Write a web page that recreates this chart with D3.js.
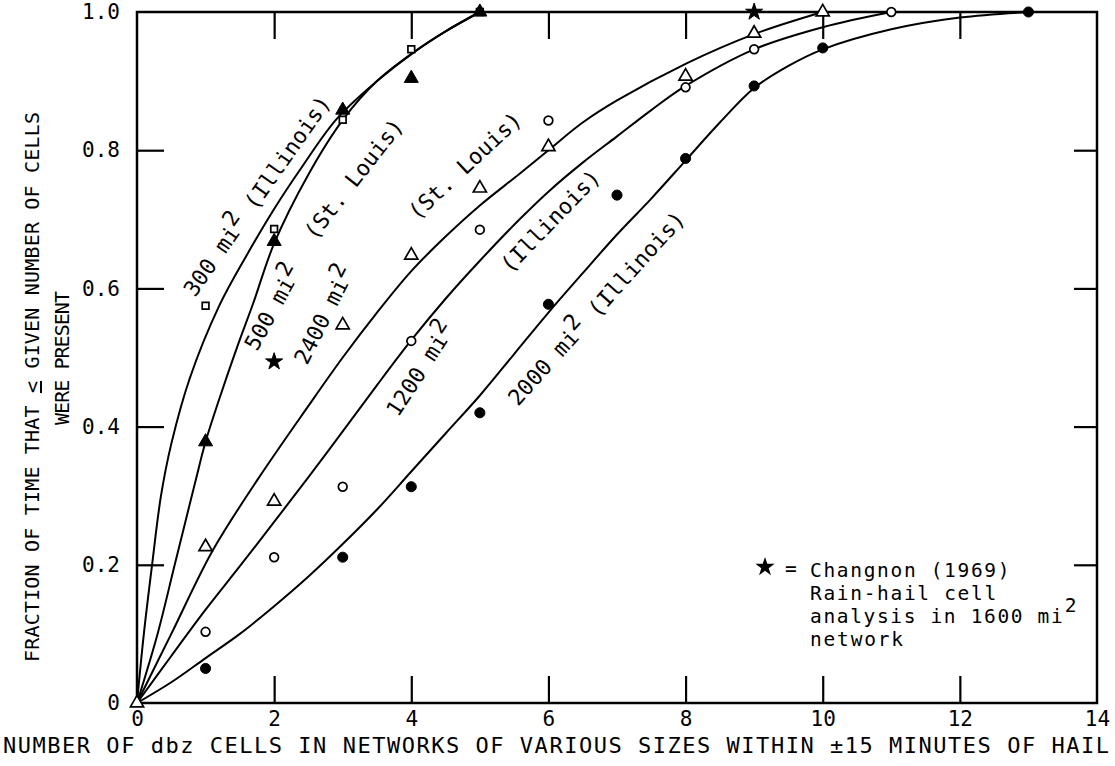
<!DOCTYPE html>
<html>
<head>
<meta charset="utf-8">
<script src="https://cdn.jsdelivr.net/npm/d3@7"></script>
<style>
  html, body { margin: 0; padding: 0; background: #fff; }
  svg { display: block; }
  text { font-family: "DejaVu Sans Mono", "Liberation Mono", monospace; fill: #000; }
</style>
</head>
<body>
<svg id="chart" width="1115" height="766"></svg>
<script>
// ---------- DATA ----------
const xTickValues = [0, 2, 4, 6, 8, 10, 12, 14];
const xInnerTicks = [2, 4, 6, 8, 10, 12];
const yTickValues = [0, 0.2, 0.4, 0.6, 0.8, 1.0];
const yTickLabels = ["0", "0.2", "0.4", "0.6", "0.8", "1.0"];
const yInnerTicks = [0.2, 0.4, 0.6, 0.8];

// fitted curves
const curve300 = [[0,0],[0.1,0.1],[0.22,0.2],[0.35,0.3],[0.5,0.375],[0.77,0.47],[1.2,0.575],[1.6,0.648],[2.0,0.715],[2.4,0.775],[2.91,0.845],[3.5,0.9],[4.04,0.942],[4.5,0.972],[5,1.0]];
const curve500 = [[0,0],[0.3,0.1],[0.55,0.2],[0.85,0.32],[1.0,0.378],[1.2,0.44],[1.46,0.515],[1.7,0.58],[2.0,0.665],[2.5,0.765],[3.01,0.845],[3.5,0.9],[4.04,0.942],[4.5,0.972],[5,1.0]];
const curve2400 = [[0,0],[0.5,0.1],[1.1,0.22],[1.77,0.325],[2.5,0.43],[3.0,0.5],[3.5,0.565],[4.0,0.625],[4.5,0.675],[5.0,0.72],[5.58,0.766],[6,0.80],[6.5,0.84],[7,0.872],[8,0.925],[9,0.968],[10,1.0]];
const curve1200 = [[0,0],[0.5,0.068],[1,0.135],[1.5,0.198],[2,0.262],[2.47,0.323],[3,0.393],[3.5,0.46],[4,0.525],[4.5,0.585],[5,0.64],[5.58,0.7],[6,0.74],[6.5,0.782],[7,0.82],[7.5,0.858],[8,0.893],[9,0.946],[10,0.978],[11,1.0]];
const curve2000 = [[0,0],[0.5,0.03],[1,0.065],[1.5,0.1],[2,0.14],[2.5,0.183],[3,0.23],[3.5,0.28],[4,0.335],[4.5,0.39],[5,0.445],[5.5,0.505],[6,0.565],[6.5,0.622],[7,0.678],[7.5,0.73],[8,0.785],[8.5,0.84],[9,0.89],[9.5,0.922],[10,0.946],[11,0.975],[12,0.992],[13,1.0]];

// observed points
const squares300 = [[1,0.575],[2,0.686],[3,0.844],[4,0.946],[5,1.0]];
const filledTri500 = [[1,0.378],[2,0.668],[3,0.858],[4,0.904],[5,1.0]];
const openTri2400 = [[0,0],[1,0.226],[2,0.292],[3,0.547],[4,0.648],[5,0.745],[6,0.805],[8,0.907],[9,0.969],[10,1.0]];
const openCirc1200 = [[1,0.103],[2,0.211],[3,0.313],[4,0.524],[5,0.685],[6,0.843],[8,0.891],[9,0.946],[11,1.0]];
const filledCirc2000 = [[1,0.05],[3,0.211],[4,0.313],[5,0.42],[6,0.577],[7,0.735],[8,0.788],[9,0.893],[10,0.948],[13,1.0]];
const starsChangnon = [[2,0.494],[9,1.0]];

const xTitle = "NUMBER OF dbz CELLS IN NETWORKS OF VARIOUS SIZES WITHIN \u00B115 MINUTES OF HAIL";
const yTitleA = "FRACTION OF TIME THAT ";
const yTitleB = "<";
const yTitleC = " GIVEN NUMBER OF CELLS";
const yTitle2 = "WERE PRESENT";
const legendLines = ["Changnon (1969)", "Rain-hail cell", "analysis in 1600 mi", "network"];

// ---------- DRAW ----------
const svg = d3.select("#chart");
const x = d3.scaleLinear().domain([0, 14]).range([137, 1097]);
const y = d3.scaleLinear().domain([0, 1]).range([703, 12]);

// frame
svg.append("rect")
  .attr("x", x(0)).attr("y", y(1))
  .attr("width", x(14) - x(0)).attr("height", y(0) - y(1))
  .attr("fill", "none").attr("stroke", "#000").attr("stroke-width", 2.5);

const TL = 27;
const tickStyle = g => { g.select(".domain").remove(); g.selectAll("line").attr("stroke", "#000").attr("stroke-width", 2.2); g.selectAll("text").remove(); };
svg.append("g").attr("transform", `translate(0,${y(0)})`)
  .call(d3.axisBottom(x).tickValues(xInnerTicks).tickSize(-TL)).call(tickStyle);
svg.append("g").attr("transform", `translate(0,${y(1)})`)
  .call(d3.axisTop(x).tickValues(xInnerTicks).tickSize(-TL)).call(tickStyle);
svg.append("g").attr("transform", `translate(${x(0)},0)`)
  .call(d3.axisLeft(y).tickValues(yInnerTicks).tickSize(-TL)).call(tickStyle);
svg.append("g").attr("transform", `translate(${x(14)},0)`)
  .call(d3.axisRight(y).tickValues(yInnerTicks).tickSize(-23)).call(tickStyle);

// tick labels
const labStyle = g => { g.select(".domain").remove(); g.selectAll("line").remove();
  g.selectAll("text").attr("font-family", "DejaVu Sans Mono").attr("font-size", 21).attr("fill", "#000"); };
svg.append("g").attr("transform", `translate(0,${y(0)})`)
  .call(d3.axisBottom(x).tickValues(xTickValues).tickSize(0).tickPadding(8).tickFormat(d3.format("d"))).call(labStyle);
svg.append("g").attr("transform", `translate(${x(0)},0)`)
  .call(d3.axisLeft(y).tickValues(yTickValues).tickSize(0).tickPadding(17)
    .tickFormat((d, i) => yTickLabels[i])).call(labStyle);

// axis titles
svg.append("text").attr("x", 3).attr("y", 753)
  .attr("font-size", 22).attr("textLength", 1106).attr("lengthAdjust", "spacing")
  .text(xTitle);
const yt = svg.append("text").attr("transform", "translate(39,387) rotate(-90)")
  .attr("text-anchor", "middle").attr("font-size", 20).attr("textLength", 550).attr("lengthAdjust", "spacing");
yt.append("tspan").text(yTitleA);
yt.append("tspan").attr("text-decoration", "underline").text(yTitleB);
yt.append("tspan").text(yTitleC);
svg.append("text").attr("transform", "translate(69,358) rotate(-90)")
  .attr("text-anchor", "middle").attr("font-size", 20).attr("textLength", 134).attr("lengthAdjust", "spacing")
  .text(yTitle2);

// curves
const line = d3.line().x(d => x(d[0])).y(d => y(d[1])).curve(d3.curveCatmullRom.alpha(0.5));
[curve300, curve500, curve2400, curve1200, curve2000].forEach(c => {
  svg.append("path").datum(c).attr("d", line)
    .attr("fill", "none").attr("stroke", "#000").attr("stroke-width", 2);
});

// markers
function markers(data, type, size, filled) {
  svg.append("g").selectAll("path").data(data).join("path")
    .attr("transform", d => `translate(${x(d[0])},${y(d[1])})`)
    .attr("d", d3.symbol().type(type).size(size))
    .attr("fill", filled ? "#000" : "#fff")
    .attr("stroke", "#000").attr("stroke-width", filled ? 1 : 1.7);
}
markers(openTri2400, d3.symbolTriangle, 75, false);
markers(openCirc1200, d3.symbolCircle, 60, false);
markers(filledCirc2000, d3.symbolCircle, 80, true);
markers(squares300, d3.symbolSquare, 45, false);
markers(filledTri500, d3.symbolTriangle, 85, true);
markers(starsChangnon, d3.symbolStar, 90, true);

// curve labels
function curveLabel(px, py, angle, pre, post) {
  const t = svg.append("text")
    .attr("transform", `translate(${px},${py}) rotate(${angle})`)
    .attr("font-size", 22);
  t.append("tspan").text(pre);
  t.append("tspan").attr("dy", -9).text("2");
  if (post) t.append("tspan").attr("dy", 9).text(post);
}
function plainLabel(px, py, angle, s) {
  svg.append("text").attr("transform", `translate(${px},${py}) rotate(${angle})`)
    .attr("font-size", 22).text(s);
}
curveLabel(195, 298, -55, "300 mi", " (Illinois)");
curveLabel(257, 352, -61, "500 mi", null);
plainLabel(315, 241, -52, "(St. Louis)");
curveLabel(307, 366, -63, "2400 mi", null);
plainLabel(417, 221, -43, "(St. Louis)");
curveLabel(398, 418, -57, "1200 mi", null);
plainLabel(510, 274, -46, "(Illinois)");
curveLabel(518, 407, -48, "2000 mi", " (Illinois)");

// legend
svg.append("path")
  .attr("transform", `translate(765,567)`)
  .attr("d", d3.symbol().type(d3.symbolStar).size(115))
  .attr("fill", "#000");
svg.append("text").attr("x", 785).attr("y", 575).attr("font-size", 19.5).text("=");
const CW = 13.3;
legendLines.forEach((s, i) => {
  svg.append("text").attr("x", 810).attr("y", 577 + i * 23)
    .attr("font-size", 19.5)
    .attr("textLength", s.length * CW).attr("lengthAdjust", "spacing")
    .text(s);
});
svg.append("text").attr("x", 810 + legendLines[2].length * CW + 2).attr("y", 612).attr("font-size", 19.5).text("2");
</script>
</body>
</html>
